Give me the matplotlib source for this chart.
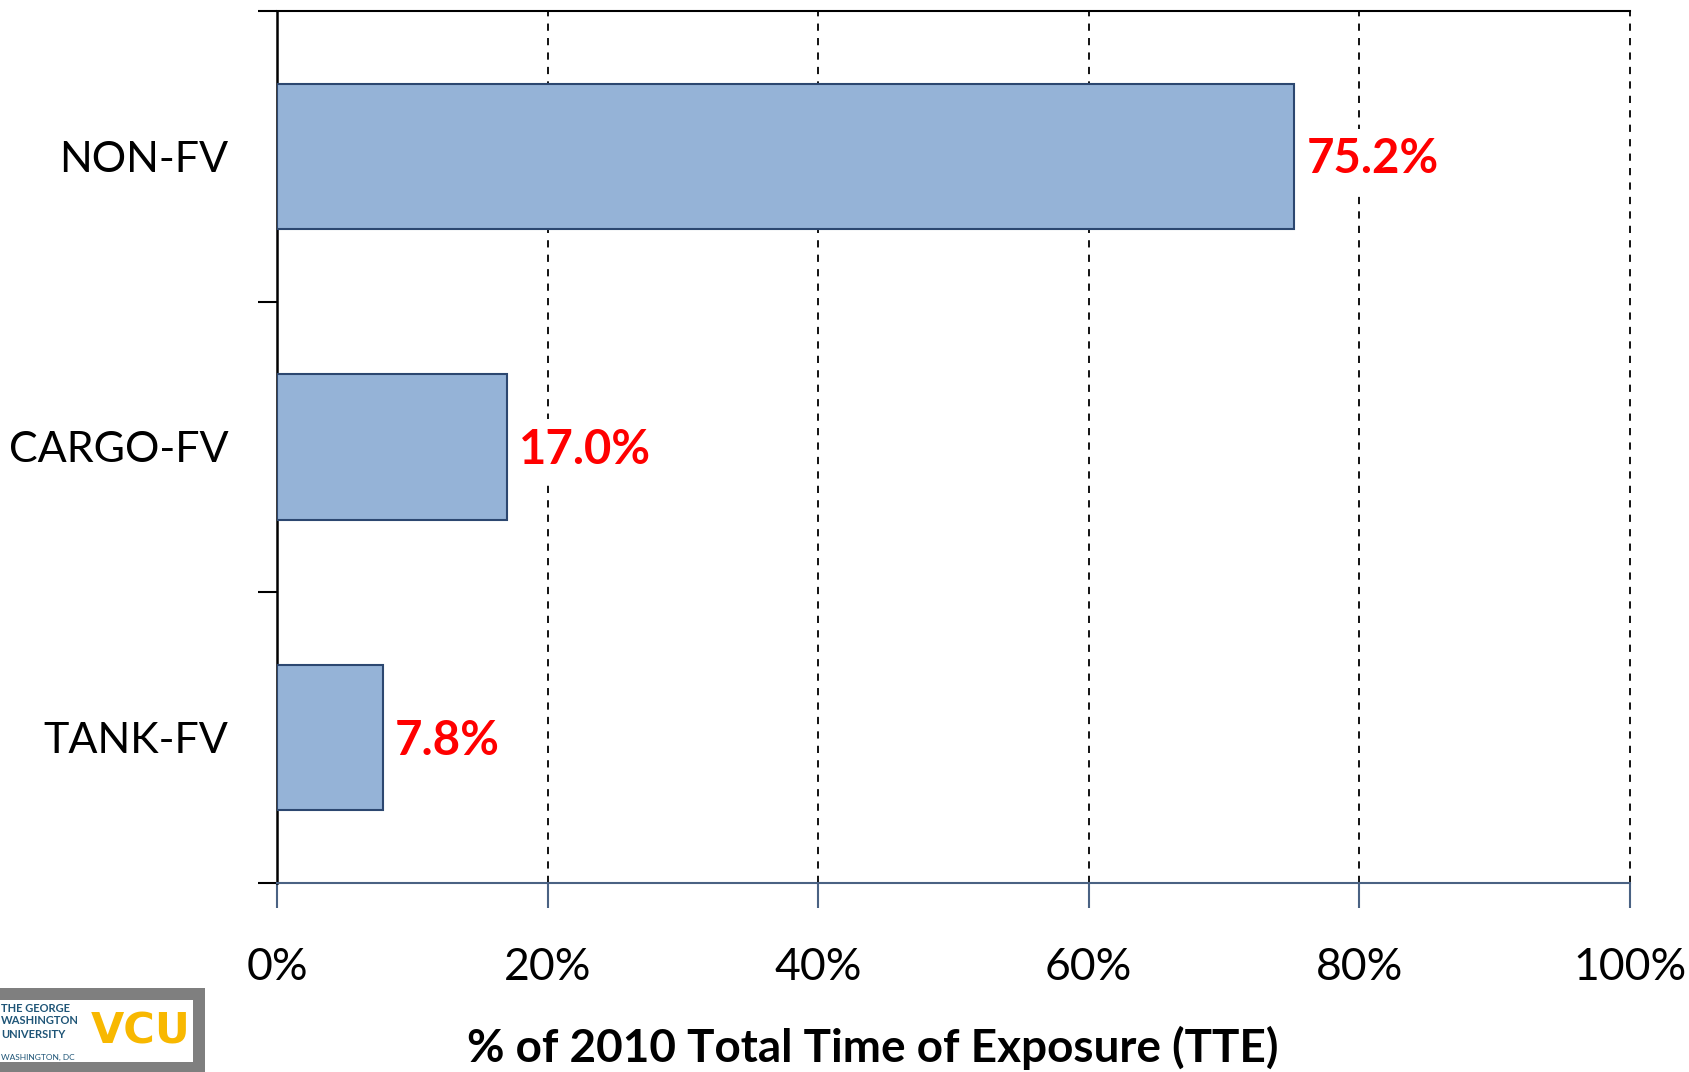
import matplotlib
matplotlib.use('Agg')
import numpy as np
from matplotlib import pyplot as plt
from matplotlib.patches import Rectangle

categories = ['NON-FV', 'CARGO-FV', 'TANK-FV']
tte_share = [75.2, 17.0, 7.8]
x_ticks = [0, 20, 40, 60, 80, 100]
x_tick_labels = ['0%', '20%', '40%', '60%', '80%', '100%']
x_title = '% of 2010 Total Time of Exposure (TTE)'

plt.rcParams['font.family'] = ['Lato', 'DejaVu Sans']

fig = plt.figure(figsize=(16.9, 10.72), dpi=100)
ax = fig.add_axes([277 / 1690, 1 - 883 / 1072, (1630 - 277) / 1690, (883 - 11) / 1072])

y_pos = np.arange(len(categories))[::-1]
ax.barh(y_pos, tte_share, height=0.5, color='#95b3d7', edgecolor='#2c4770',
        linewidth=1.5, zorder=3)

for y, v in zip(y_pos, tte_share):
    ax.text(v + 0.9, y - 0.01, f'{v:.1f}%', color='#ff0000', fontsize=34, fontweight='bold',
            va='center', ha='left', zorder=4,
            bbox=dict(facecolor='white', edgecolor='none', pad=6))

ax.set_xlim(0, 100)
ax.set_ylim(-0.5, len(categories) - 0.5)

# x axis
ax.set_xticks(x_ticks)
ax.set_xticklabels(x_tick_labels, fontsize=32)
ax.tick_params(axis='x', direction='out', length=18, width=1.5, color='#4a6283', pad=28)

# y axis: tick marks at the category boundaries, labels at the centres
ax.set_yticks(np.arange(-0.5, len(categories), 1.0))
ax.set_yticklabels([])
ax.tick_params(axis='y', which='major', direction='out', length=14, width=1.5, color='black')
ax.set_yticks(y_pos, minor=True)
ax.set_yticklabels(categories, minor=True, fontsize=31)
ax.tick_params(axis='y', which='minor', length=0, pad=35)

for x in x_ticks[1:]:
    ax.axvline(x, color='black', linestyle=(0, (4, 4)), linewidth=1.3, zorder=1, clip_on=False)

ax.spines['right'].set_visible(False)
ax.spines['top'].set_color('black')
ax.spines['top'].set_linewidth(1.5)
ax.spines['left'].set_color('black')
ax.spines['left'].set_linewidth(1.8)
ax.spines['bottom'].set_color('#4a6283')
ax.spines['bottom'].set_linewidth(1.5)

fig.text(873 / 1690, 1 - 1048 / 1072, x_title, fontsize=33, fontweight='bold',
         ha='center', va='center')

# logo box in the bottom-left corner
fig.patches.append(Rectangle((0, 0), 205 / 1690, (1072 - 988) / 1072, transform=fig.transFigure,
                             facecolor='#7f7f7f', edgecolor='none', zorder=5))
fig.patches.append(Rectangle((0, (1072 - 1062) / 1072), 193 / 1690, 62 / 1072,
                             transform=fig.transFigure, facecolor='white', edgecolor='none', zorder=6))
for i, line in enumerate(['THE GEORGE', 'WASHINGTON', 'UNIVERSITY']):
    fig.text(1 / 1690, 1 - (1008 + i * 13) / 1072, line, fontsize=8, fontweight='bold',
             color='#1f5577', ha='left', va='center', zorder=7)
fig.text(1 / 1690, 1 - 1057 / 1072, 'WASHINGTON, DC', fontsize=6, color='#1f5577',
         ha='left', va='center', zorder=7)
fig.text(141 / 1690, 1 - 1032 / 1072, 'VCU', fontsize=31, fontweight='bold', color='#f8b800',
         ha='center', va='center', family='DejaVu Sans', zorder=7)

fig.savefig('out.png', dpi=100)
